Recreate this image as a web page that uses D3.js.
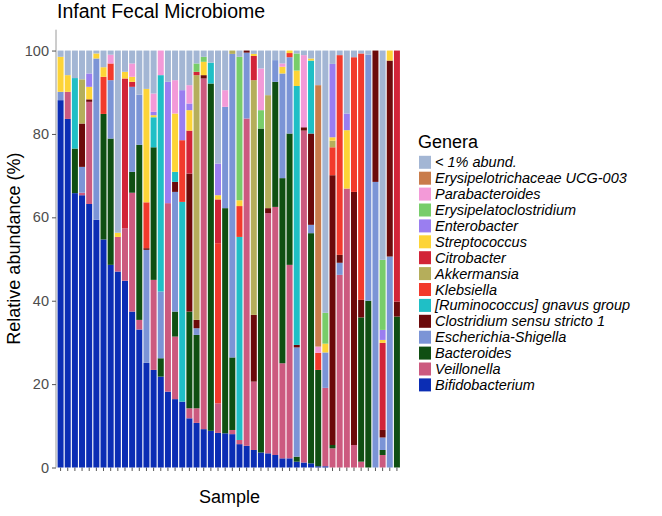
<!DOCTYPE html>
<html><head><meta charset="utf-8">
<script src="https://cdn.jsdelivr.net/npm/d3@7"></script>
<style>body{margin:0;background:#fff;} svg{display:block;font-family:"Liberation Sans",Arial,Helvetica,sans-serif;}</style>
</head><body>
<div id="chart"></div>
<script>
const samples = d3.range(1, 49).map(i => "S" + i);
const genera = ["Bifidobacterium","Veillonella","Bacteroides","Escherichia-Shigella","Clostridium sensu stricto 1","[Ruminococcus] gnavus group","Klebsiella","Akkermansia","Citrobacter","Streptococcus","Enterobacter","Erysipelatoclostridium","Parabacteroides","Erysipelotrichaceae UCG-003","< 1% abund."];
const colors = ["#0b2db4","#cc5a7f","#0f4f12","#7b94d6","#6c0a0b","#1fbfc6","#f23a2c","#b5ae5b","#d22438","#fdd437","#9a7ef0","#78cd6a","#f39ad8","#c97c4b","#a3b6d4"];

const bifidobacterium = [88.1,83.6,65.8,65.3,63.2,59.4,54.7,48.6,47.0,44.8,37.4,33.1,25.1,23.4,21.8,18.2,16.4,15.8,11.8,10.7,9.2,8.8,8.3,8.2,8.0,5.6,5.2,4.2,3.6,3.4,3.0,2.2,2.2,1.4,1.2,1.0,0.3,0.3,0,0,0,0,0,0,0,0,0,0];
const veillonella = [0,6.5,0,0.6,24.5,0,0,0,8.3,12.6,28.5,2.3,0,21.6,0,45.2,15.0,0,2.4,3.5,84.1,0,7.1,0,1.0,1.0,78.5,16.4,0,57.6,59.5,22.8,46.4,0,79.6,0,0,18.8,4.6,46.2,66.9,5.4,1.4,0,0,3.0,0,0];
const bacteroides = [0,0,10.7,0,0,0,30.1,30.3,0,0,5.0,42.0,0,31.8,4.4,0,6.0,0,23.2,17.6,0,83.3,0,54.0,17.4,0,0,0,77.7,0,30.0,44.4,31.5,1.2,0,55.2,23.1,0,0.8,0,0,0,34.6,40.0,0,1.2,0,36.2];
const escherichia = [2.0,0,0,6.2,0,38.7,0,14.0,0,0,20.4,12.0,27.1,0,16.0,0,28.7,0,0,1.6,0,0,0,24.3,72.8,0,15.8,0,0,0,5.2,25.1,18.3,26.2,0,2.0,0,8.5,0,2.9,0,0,0,59.0,68.5,3.0,50.6,0];
const clostridium = [0,0,0,10.4,0.6,0,0,0,0,0,0,0,0.4,0,0,0,2.4,0,33.1,2.0,0.8,0,0,0,0,0,0.5,16.0,0,1.2,0,0,0,0.6,0.8,21.9,0,0,64.7,1.9,0,60.7,4.2,0,31.5,1.8,47.0,3.6];
const ruminococcus = [0,0,16.9,0,0,0,0,0,0,0,0,0,0,7.2,51.9,0,2.4,47.9,0,0,0,5.0,0,0,0,48.7,0,0,0,0,0,0,0,62.1,0,17.5,0,0,0,0,0,0,0,0,0,0,0,0];
const klebsiella = [0,0,0,0,0,0,8.9,4.0,0,0,0,0,11.0,0,0,0,0,14.8,0,0,0,0,38.4,0,0,7.4,0,0,0,0,0,0,1.0,0,0,0,4.1,0,6.7,47.9,0,32.3,59.1,0,0,0,0,0];
const akkermansia = [0,0,0,10.6,0,0,0,0,0,0,0,0,0,0,0,0,0,0,0,58.7,0,0,0,0,0.8,0,0,56.3,0,27.1,0,0,0,0,0,0,0,0,1.6,0,0,0,0,0,0,0,0,0];
const citrobacter = [0,0,0,0,0,0,0,0,0,35.9,1.2,0,0,0,0,0,0,0,10.3,0.8,0,0,10.5,0,0,0,0,5.8,0,0,0,0,0,0,0,0,0,0,0,0,0,0,0,0,0,20.9,0,60.2];
const streptococcus = [8.4,4.0,0,0,3.0,1.2,2.3,0,1.0,1.6,1.2,0,27.2,0.5,0,0,14.0,0,4.9,0,3.2,0,1.0,0,0,1.4,0,0.5,0,0,0,1.6,0.6,3.7,0,0.5,0,2.1,0.8,0,14.0,0,0,0,0,0.7,2.4,0];
const enterobacter = [0,0,0,0,3.2,0,0,0,0,0,0,0,0,0.8,0,29.1,0,12.0,1.6,0,0,0,7.6,0,0,0,0,0,0,0,0,0,0,0,0,0,0,0,17.6,0,4.0,0,0,0,0,2.4,0,0];
const erysipelatoclostridium = [0,0,0,0,0,0,0,0,0,0,0,0,0,0,0,0,0,0,0,2.0,1.2,0,0,0,0,34.4,0,0,4.4,0,0,0,0,4.1,0,0,0,7.4,0,0,0,0,0,0,0,16.8,0,0];
const parabacteroides = [0,0,0,0,0,0,0,2.1,0,0,3.2,0,0,4.4,5.9,0,8.0,0,4.4,0,0,0,0,4.0,0,0,0,0,10.0,0,0,0.8,0,0,17.3,0,1.5,0,0,0,0,0,0,0,0,0,0,0];
const erysipelotrichaceae = [0,0,0,0,0,0,0,0,0,0,0,0,0,0,0,0,0,0,0,0,0,0,0,0,0,0,0,0,0,0,0,0,0,0,0,0,62.7,0,0,0,0,0,0,0,0,0,0,0];
const lowAbund = [1.5,5.9,6.6,6.9,5.5,0.7,4.0,1.0,43.7,5.1,3.1,10.6,9.2,10.3,0,7.5,7.1,9.5,8.3,3.1,1.5,2.9,27.1,9.5,0,1.5,0,0.8,4.3,10.7,2.3,3.1,0,0.7,1.1,1.9,8.3,62.9,3.2,1.1,15.1,1.6,0.7,1.0,0,50.2,0,0];
const yTicks = [0,20,40,60,80,100];

const series = [bifidobacterium,veillonella,bacteroides,escherichia,clostridium,ruminococcus,klebsiella,akkermansia,citrobacter,streptococcus,enterobacter,erysipelatoclostridium,parabacteroides,erysipelotrichaceae,lowAbund];
const table = samples.map((s, i) => {
  const row = {sample: s};
  genera.forEach((g, k) => row[g] = series[k][i]);
  return row;
});

const W = 662, H = 516;
const svg = d3.select("#chart").append("svg").attr("width", W).attr("height", H);

const x = d3.scaleBand().domain(samples).range([57, 400.5]).paddingInner(0.16).paddingOuter(0.08);
const y = d3.scaleLinear().domain([0, 105]).range([467.5, 29.7]);

const stack = d3.stack().keys(genera)(table);
const color = d3.scaleOrdinal().domain(genera).range(colors);

svg.append("g").selectAll("g").data(stack).join("g")
  .attr("fill", d => color(d.key))
  .selectAll("rect").data(d => d).join("rect")
  .attr("x", d => x(d.data.sample))
  .attr("width", x.bandwidth())
  .attr("y", d => y(d[1]))
  .attr("height", d => Math.max(0, y(d[0]) - y(d[1])));

// y axis
const yAxis = svg.append("g").attr("transform", "translate(56,0)")
  .call(d3.axisLeft(y).tickValues(yTicks).tickSize(4).tickPadding(3));
yAxis.select(".domain").attr("stroke", "#9a9a9a").attr("d", `M0,${y(105)}V${y(0)}`);
yAxis.selectAll(".tick line").attr("stroke", "#555");
yAxis.selectAll(".tick text").attr("fill", "#4d4d4d").style("font-size", "14.5px");

// x axis ticks
const xAxis = svg.append("g").attr("transform", `translate(0,${y(0)})`)
  .call(d3.axisBottom(x).tickSize(3.5).tickFormat(""));
xAxis.select(".domain").remove();
xAxis.selectAll(".tick line").attr("stroke", "#555");

// titles
svg.append("text").attr("x", 57).attr("y", 18).style("font-size", "19.5px").attr("fill", "#000").text("Infant Fecal Microbiome");
svg.append("text").attr("x", (57 + 402) / 2).attr("y", 503).attr("text-anchor", "middle").style("font-size", "18px").text("Sample");
svg.append("text").attr("transform", `translate(20,${(y(0) + y(105)) / 2}) rotate(-90)`).attr("text-anchor", "middle").style("font-size", "18px").text("Relative abundance (%)");

// legend
const lg = svg.append("g").attr("transform", "translate(418,0)");
lg.append("text").attr("x", 0).attr("y", 148).style("font-size", "18px").text("Genera");
const items = genera.slice().reverse();
const rowH = 15.9;
items.forEach((g, i) => {
  const cy = 162.3 + i * rowH;
  lg.append("rect").attr("x", 1).attr("y", cy - 6.5).attr("width", 12).attr("height", 13).attr("fill", color(g));
  lg.append("text").attr("x", 17).attr("y", cy + 5).style("font-size", "14.5px").style("font-style", "italic").text(g);
});
</script>
</body></html>
